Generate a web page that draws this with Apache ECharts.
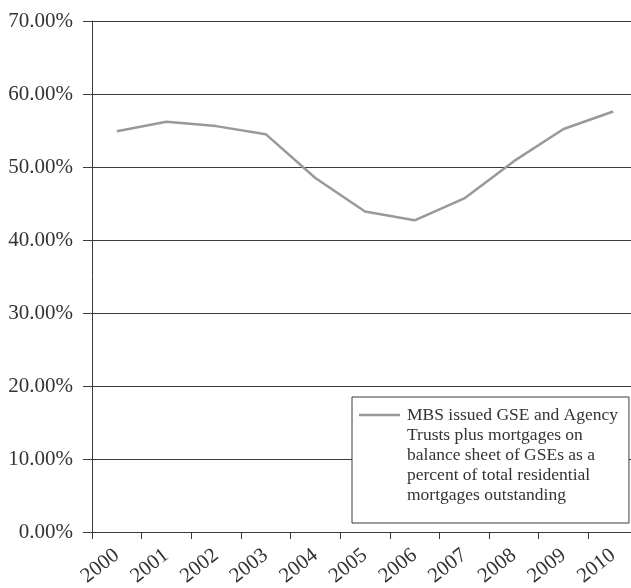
<!DOCTYPE html>
<html>
<head>
<meta charset="utf-8">
<script src="https://cdn.jsdelivr.net/npm/echarts@6/dist/echarts.min.js"></script>
<style>
html,body{margin:0;padding:0;background:#fff;}
#chart{width:631px;height:588px;}
</style>
</head>
<body>
<div id="chart"></div>
<script>
const years = ['2000','2001','2002','2003','2004','2005','2006','2007','2008','2009','2010'];
const gseShare = [54.9, 56.2, 55.6, 54.5, 48.5, 43.9, 42.7, 45.7, 50.8, 55.2, 57.6];
const seriesName = 'MBS issued GSE and Agency\nTrusts plus mortgages on\nbalance sheet of GSEs as a\npercent of total residential\nmortgages outstanding';
const yTicks = {min: 0, max: 70, interval: 10};

const FONT = '"Liberation Serif", "DejaVu Serif", serif';
const chart = echarts.init(document.getElementById('chart'), null, {renderer: 'canvas'});
chart.setOption({
  animation: false,
  backgroundColor: '#fff',
  grid: {left: 92, top: 21, bottom: 56, right: -7, containLabel: false, outerBoundsMode: 'none'},
  xAxis: {
    type: 'category',
    data: years,
    boundaryGap: true,
    axisLine: {lineStyle: {color: '#3a3a3a', width: 1}},
    axisTick: {show: true, length: 7, lineStyle: {color: '#3a3a3a'}},
    axisLabel: {rotate: 38, margin: 21, fontSize: 21, fontFamily: FONT, color: '#333', interval: 0, hideOverlap: false},
    splitLine: {show: false}
  },
  yAxis: {
    type: 'value',
    min: yTicks.min, max: yTicks.max, interval: yTicks.interval,
    axisLine: {show: true, lineStyle: {color: '#3a3a3a', width: 1}},
    axisTick: {show: true, length: 9, lineStyle: {color: '#3a3a3a'}},
    axisLabel: {margin: 19, fontSize: 21, fontFamily: FONT, color: '#333',
      formatter: v => v.toFixed(2) + '%'},
    splitLine: {show: true, lineStyle: {color: '#3a3a3a', width: 1}}
  },
  legend: {
    left: 352, top: 397,
    orient: 'vertical',
    backgroundColor: '#fff',
    borderColor: '#3a3a3a', borderWidth: 1,
    padding: [8, 11, 18, 7],
    itemWidth: 41, itemHeight: 100, itemGap: 0,
    icon: 'path://M0,8.7H41V11.3H0Z M0,0H0.01V0.01H0Z M0,100H0.01V99.99H0Z',
    itemStyle: {color: '#999999'},
    textStyle: {fontSize: 17.5, lineHeight: 20, fontFamily: FONT, color: '#333', padding: [0, 0, 0, 2]},
    data: [seriesName]
  },
  series: [{
    name: seriesName,
    type: 'line',
    data: gseShare,
    symbol: 'none',
    lineStyle: {color: '#999999', width: 2.5},
    itemStyle: {color: '#999999'}
  }]
});
</script>
</body>
</html>
